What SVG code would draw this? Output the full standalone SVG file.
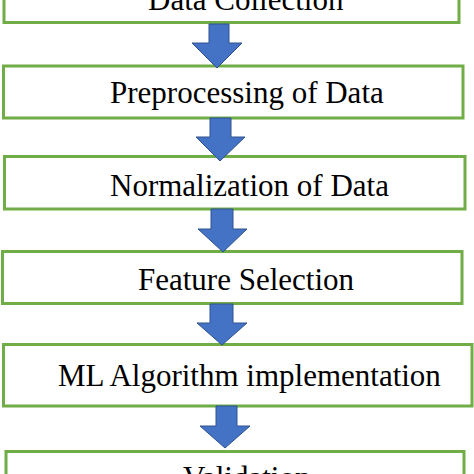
<svg xmlns="http://www.w3.org/2000/svg" width="474" height="474" viewBox="0 0 474 474">
<style>
.box{fill:#ffffff;stroke:#70AD47;stroke-width:3}
.lbl{font-family:"Liberation Serif","Times New Roman",serif;font-size:31px;fill:#000000}
.arr{fill:#4472C4;stroke:#2F528F;stroke-width:1}
</style>
<rect width="474" height="474" fill="#ffffff"/>
<g id="node1">
<rect class="box" x="4" y="-40" width="455" height="62.5"/>
<text class="lbl" x="148" y="10">Data Collection</text>
</g>
<g id="node2">
<rect class="box" x="3.5" y="66" width="459.5" height="52"/>
<text class="lbl" x="110" y="103">Preprocessing of Data</text>
</g>
<g id="node3">
<rect class="box" x="4.5" y="156.5" width="460.5" height="52.5"/>
<text class="lbl" x="110" y="196">Normalization of Data</text>
</g>
<g id="node4">
<rect class="box" x="2.5" y="251.5" width="459.5" height="52"/>
<text class="lbl" x="138" y="290">Feature Selection</text>
</g>
<g id="node5">
<rect class="box" x="3.5" y="344.5" width="468.5" height="61.5"/>
<text class="lbl" x="58" y="386">ML Algorithm implementation</text>
</g>
<g id="node6">
<rect class="box" x="6" y="451.5" width="458" height="60"/>
<text class="lbl" x="183" y="488">Validation</text>
</g>
<g id="connectors">
<path class="arr" d="M209,24 H229 V43 H242 L217,68 L192,43 H209 Z"/>
<path class="arr" d="M210,118 H231 V137 H245 L220,161 L196,137 H210 Z"/>
<path class="arr" d="M211,209 H233 V229 H247 L223,252 L198,229 H211 Z"/>
<path class="arr" d="M210,304 H233 V323 H247 L222,345 L197,323 H210 Z"/>
<path class="arr" d="M216,406 H237 V426 H250 L225,448 L200,426 H216 Z"/>
</g>
</svg>
